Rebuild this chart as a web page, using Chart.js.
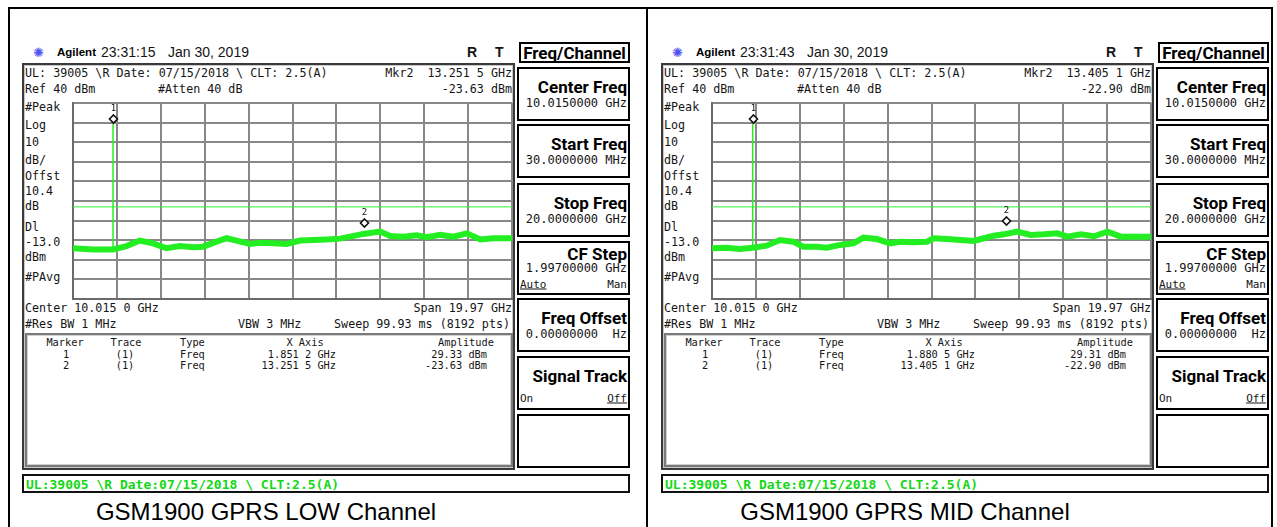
<!DOCTYPE html>
<html>
<head>
<meta charset="utf-8">
<script src="https://cdn.jsdelivr.net/npm/chart.js@4.4.1/dist/chart.umd.min.js"></script>
<style>
  html, body { margin: 0; padding: 0; background: #fff; }
  body { width: 1277px; height: 527px; position: relative; overflow: hidden; }
  .t { position: absolute; white-space: pre; line-height: 1; color: #151515; }
  .mono { font-family: 'DejaVu Sans Mono', 'Liberation Mono', monospace; font-size: 11.7px; }
  .small { font-family: 'DejaVu Sans Mono', 'Liberation Mono', monospace; font-size: 10.3px; }
  .key { font-family: Roboto, 'DejaVu Sans', sans-serif; font-weight: bold; font-size: 17px; color: #000; }
  .box { position: absolute; box-sizing: border-box; }
  canvas { position: absolute; }
</style>
</head>
<body>
<script>
const panelTitles = ['GSM1900 GPRS LOW Channel', 'GSM1900 GPRS MID Channel'];
const timeStamps = ['23:31:15', '23:31:43'];
const dateStamp = 'Jan 30, 2019';
const headerNote = 'UL: 39005 \\R Date: 07/15/2018 \\ CLT: 2.5(A)';
const footerNote = 'UL:39005 \\R Date:07/15/2018 \\ CLT:2.5(A)';

const startGHz = 0.03;
const stopGHz = 20;
const refLevelDbm = 40;
const dbPerDiv = 10;
const divisions = 10;
const displayLineDbm = -13;

const marker1FreqGHz = [1.8512, 1.8805];
const marker1Dbm = [29.33, 29.31];
const marker2FreqGHz = [13.2515, 13.4051];
const marker2Dbm = [-23.63, -22.90];
const marker1FreqText = ['1.851 2 GHz', '1.880 5 GHz'];
const marker2FreqText = ['13.251 5 GHz', '13.405 1 GHz'];
const spikeBaseDbm = [-34.7, -33.8];

const lowFreqGHz = [0.03, 0.94, 1.85, 2.46, 3.07, 3.67, 4.28, 4.89, 5.50, 5.95, 6.56, 7.02, 7.47, 8.08, 8.53, 9.14, 9.75,
  10.36, 10.96, 11.57, 12.18, 12.63, 13.24, 14.00, 14.46, 15.06, 15.67, 16.13, 16.74, 17.34, 17.95, 18.56, 19.16, 20.00];
const lowTraceDbm = [-34.1, -34.7, -34.7, -33.0, -30.2, -31.6, -34.1, -33.0, -33.6, -33.3, -30.7, -29.0, -30.2, -31.9, -31.3, -31.6, -31.9,
  -30.2, -29.9, -29.6, -29.2, -28.2, -26.8, -25.6, -27.9, -28.2, -27.5, -28.5, -27.3, -28.2, -26.5, -29.6, -29.0, -29.0];

const midFreqGHz = [0.03, 0.68, 1.29, 1.90, 2.51, 3.12, 3.73, 4.18, 4.79, 5.25, 5.86, 6.46, 6.92, 7.53, 8.14, 8.59, 9.20, 9.81,
  10.11, 10.72, 11.33, 11.94, 12.40, 12.85, 13.31, 13.92, 14.52, 15.13, 15.74, 16.20, 16.81, 17.41, 18.02, 18.63, 19.24, 20.00];
const midTraceDbm = [-34.1, -33.8, -34.5, -33.8, -32.8, -29.9, -30.8, -33.3, -33.3, -33.8, -32.4, -31.6, -28.7, -29.4, -31.6, -30.8, -31.1, -30.8,
  -29.0, -29.4, -29.9, -30.4, -29.0, -27.7, -27.0, -25.6, -27.3, -27.0, -26.5, -28.2, -27.0, -28.0, -25.6, -28.2, -28.2, -28.2];

const sideLabels = ['#Peak', 'Log', '10', 'dB/', 'Offst', '10.4', 'dB', 'Dl', '-13.0', 'dBm', '#PAvg'];
const tableHeads = ['Marker', 'Trace', 'Type', 'X Axis', 'Amplitude'];
const softKeys = [
  { title: 'Center Freq', value: '10.0150000 GHz' },
  { title: 'Start Freq', value: '30.0000000 MHz' },
  { title: 'Stop Freq', value: '20.0000000 GHz' },
  { title: 'CF Step', value: '1.99700000 GHz', opts: ['Auto', 'Man'], pick: 0 },
  { title: 'Freq Offset', value: '0.00000000  Hz' },
  { title: 'Signal Track', opts: ['On', 'Off'], pick: 1 },
  {}
];

const TRACE_GREEN = '#22ee22';
const GRID_GRAY = '#888888';

// --- little helpers for the screen furniture ---
function txt(str, x, y, cls, align, extra) {
  const el = document.createElement('div');
  el.className = 't ' + (cls || '');
  el.textContent = str;
  el.style.left = x + 'px';
  el.style.top = y + 'px';
  const tx = align === 'right' ? '-100%' : align === 'center' ? '-50%' : '0';
  el.style.transform = `translate(${tx}, -50%)`;
  if (extra) Object.assign(el.style, extra);
  document.body.appendChild(el);
  return el;
}
function box(x, y, w, h, css) {
  const el = document.createElement('div');
  el.className = 'box';
  Object.assign(el.style, { left: x + 'px', top: y + 'px', width: w + 'px', height: h + 'px' }, css);
  document.body.appendChild(el);
  return el;
}

const markerPlugin = {
  id: 'mkr',
  afterDatasetsDraw(chart, args, opts) {
    const { ctx, scales: { x, y } } = chart;
    ctx.save();
    opts.list.forEach(m => {
      const px = Math.round(x.getPixelForValue(m.f)) + 0.5;
      const py = Math.round(y.getPixelForValue(m.a)) - 5;
      ctx.beginPath();
      ctx.moveTo(px, py - 4); ctx.lineTo(px + 4, py); ctx.lineTo(px, py + 4); ctx.lineTo(px - 4, py); ctx.closePath();
      ctx.fillStyle = '#fff'; ctx.fill();
      ctx.lineWidth = 1.6; ctx.strokeStyle = '#111'; ctx.stroke();
      ctx.fillStyle = '#111';
      ctx.font = '9px "DejaVu Sans Mono", monospace';
      ctx.textAlign = 'center'; ctx.textBaseline = 'middle';
      ctx.fillText(m.n, px, py - 10);
    });
    ctx.restore();
  }
};

function makePlot(i, dx, freq, trace) {
  const cv = document.createElement('canvas');
  cv.width = 443; cv.height = 200;
  cv.style.left = (71 + dx) + 'px'; cv.style.top = '101px';
  document.body.appendChild(cv);
  const gridOpts = { color: GRID_GRAY, lineWidth: 2, drawTicks: false };
  new Chart(cv, {
    type: 'line',
    data: {
      datasets: [
        { data: freq.map((f, k) => ({ x: f, y: trace[k] })), borderColor: TRACE_GREEN, borderWidth: 6, pointRadius: 0, tension: 0 },
        { data: [{ x: marker1FreqGHz[i], y: spikeBaseDbm[i] }, { x: marker1FreqGHz[i], y: marker1Dbm[i] }], borderColor: TRACE_GREEN, borderWidth: 1.5, pointRadius: 0 },
        { data: [{ x: startGHz, y: displayLineDbm }, { x: stopGHz, y: displayLineDbm }], borderColor: '#33ee33', borderWidth: 1, pointRadius: 0 }
      ]
    },
    options: {
      responsive: false, animation: false, events: [],
      layout: { padding: 2 },
      plugins: {
        legend: { display: false }, tooltip: { enabled: false },
        mkr: { list: [{ f: marker1FreqGHz[i], a: marker1Dbm[i], n: '1' }, { f: marker2FreqGHz[i], a: marker2Dbm[i], n: '2' }] }
      },
      scales: {
        x: {
          type: 'linear', min: startGHz, max: stopGHz,
          afterBuildTicks: s => { s.ticks = Array.from({ length: divisions + 1 }, (_, k) => ({ value: startGHz + k * (stopGHz - startGHz) / divisions })); },
          ticks: { display: false }, grid: gridOpts, border: { color: '#6a6a6a', width: 2 }
        },
        y: {
          min: refLevelDbm - dbPerDiv * divisions, max: refLevelDbm,
          ticks: { display: false, stepSize: dbPerDiv }, grid: gridOpts, border: { color: '#6a6a6a', width: 2 }
        }
      }
    },
    plugins: [markerPlugin]
  });
}

function buildPanel(i, dx, freq, trace) {
  // header row
  txt('\u273A', 33 + dx, 52, '', 'left', { font: '13px "DejaVu Sans", sans-serif', color: '#4f52f0' });
  txt('Agilent', 57 + dx, 52, '', 'left', { font: 'bold 11.5px "Liberation Sans", sans-serif', color: '#000' });
  txt(timeStamps[i], 101 + dx, 52, '', 'left', { font: '14px "Liberation Sans", sans-serif' });
  txt(dateStamp, 168 + dx, 52, '', 'left', { font: '14px "Liberation Sans", sans-serif' });
  txt('R', 467 + dx, 52, '', 'left', { font: 'bold 14px "Liberation Sans", sans-serif' });
  txt('T', 495 + dx, 52, '', 'left', { font: 'bold 14px "Liberation Sans", sans-serif' });
  box(519 + dx, 42, 111, 21, { border: '2px solid #000' });
  txt('Freq/Channel', 574.5 + dx, 52.5, 'key', 'center');

  // screen area
  box(22 + dx, 63, 493, 407, { border: '2px solid #3a3a3a', boxShadow: 'inset 0 0 0 1px #c8c8c8' });
  txt(headerNote, 25 + dx, 74, 'mono');
  txt('Mkr2  ' + marker2FreqText[i], 512 + dx, 74, 'mono', 'right');
  txt('Ref ' + refLevelDbm + ' dBm', 25 + dx, 90, 'mono');
  txt('#Atten 40 dB', 158 + dx, 90, 'mono');
  txt(marker2Dbm[i].toFixed(2) + ' dBm', 512 + dx, 90, 'mono', 'right');
  const labelY = [108, 126, 143, 161, 177, 192, 207, 228, 243, 258, 278];
  sideLabels.forEach((s, k) => txt(s, 25 + dx, labelY[k], 'mono'));
  txt('Center 10.015 0 GHz', 25 + dx, 309, 'mono');
  txt('Span 19.97 GHz', 512 + dx, 309, 'mono', 'right');
  txt('#Res BW 1 MHz', 25 + dx, 325, 'mono');
  txt('VBW 3 MHz', 238 + dx, 325, 'mono');
  txt('Sweep 99.93 ms (8192 pts)', 510 + dx, 325, 'mono', 'right');

  // marker table
  box(25 + dx, 333, 488, 134, { border: '2px solid #7a7a7a', boxShadow: 'inset 0 0 0 1px #d0d0d0' });
  const headX = [65, 126, 180, 305, 466];
  const headAlign = ['center', 'center', 'left', 'center', 'center'];
  tableHeads.forEach((h, k) => txt(h, headX[k] + dx, 342, 'small', headAlign[k]));
  const rows = [
    ['1', '(1)', 'Freq', marker1FreqText[i], marker1Dbm[i].toFixed(2) + ' dBm'],
    ['2', '(1)', 'Freq', marker2FreqText[i], marker2Dbm[i].toFixed(2) + ' dBm']
  ];
  const rowX = [66, 125, 180, 336, 487];
  const rowAlign = ['center', 'center', 'left', 'right', 'right'];
  rows.forEach((r, ri) => r.forEach((c, k) => txt(c, rowX[k] + dx, 354 + ri * 11, 'small', rowAlign[k])));

  // soft keys
  const keyTop = [67, 124, 183, 241, 298, 356, 414];
  softKeys.forEach((s, k) => {
    const top = keyTop[k];
    box(517 + dx, top, 113, 54, { border: '2px solid #000' });
    if (!s.title) return;
    const compact = s.opts && s.value;
    txt(s.title, 627 + dx, top + (compact ? 13 : 20), 'key', 'right');
    if (s.value) txt(s.value, 627 + dx, top + (compact ? 27 : 36), 'mono', 'right', { fontSize: '12px' });
    if (s.opts) {
      const oy = top + (compact ? 43 : 42);
      txt(s.opts[0], 520 + dx, oy, 'mono', 'left', { fontSize: '11px', textDecoration: s.pick === 0 ? 'underline' : 'none' });
      txt(s.opts[1], 627 + dx, oy, 'mono', 'right', { fontSize: '11px', textDecoration: s.pick === 1 ? 'underline' : 'none' });
    }
  });

  // status line and caption
  box(22 + dx, 474, 608, 19, { border: '2px solid #111' });
  txt(footerNote, 26 + dx, 483.5, '', 'left', { font: 'bold 13px "DejaVu Sans Mono", monospace', color: '#14d814' });
  const cap = txt(panelTitles[i], 266 + dx, 500, '', 'center', { font: '24px "Liberation Sans", Arial, sans-serif', color: '#000', lineHeight: '24px' });
  cap.style.transform = 'translate(-50%, 0)';

  makePlot(i, dx, freq, trace);
}

// outer frame
box(8, 7, 1265, 540, { border: '2px solid #000' });
box(646, 7, 2, 540, { background: '#000' });

buildPanel(0, 0, lowFreqGHz, lowTraceDbm);
buildPanel(1, 639, midFreqGHz, midTraceDbm);
</script>
</body>
</html>
